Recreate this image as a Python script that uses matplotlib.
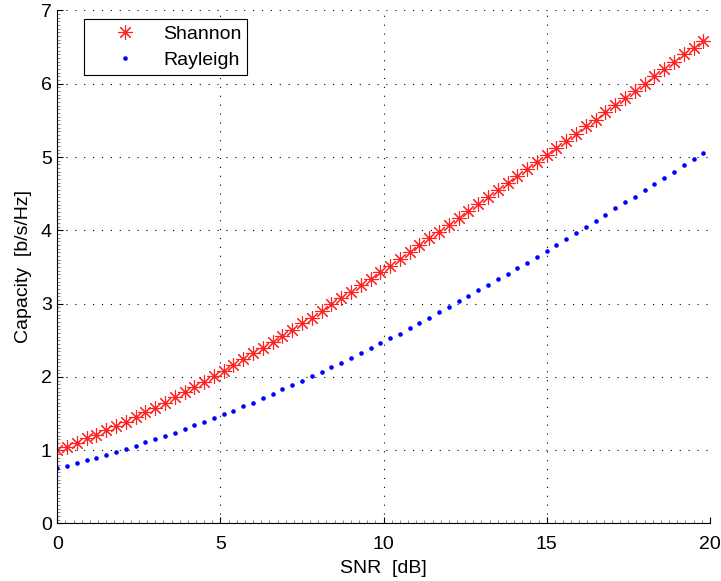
import matplotlib
matplotlib.use("Agg")
import matplotlib.pyplot as plt
from matplotlib.ticker import MultipleLocator

plt.rcParams['font.family'] = ['Liberation Sans', 'DejaVu Sans']

snr_db = [round(0.3 * i, 1) for i in range(67)]

shannon = [1.00, 1.05, 1.10, 1.16, 1.21, 1.27, 1.33, 1.39, 1.45, 1.52,
           1.58, 1.65, 1.72, 1.79, 1.86, 1.93, 2.01, 2.08, 2.16, 2.24,
           2.32, 2.40, 2.48, 2.56, 2.64, 2.73, 2.81, 2.90, 2.99, 3.07,
           3.16, 3.25, 3.34, 3.43, 3.52, 3.61, 3.70, 3.80, 3.89, 3.98,
           4.07, 4.17, 4.26, 4.36, 4.45, 4.55, 4.64, 4.74, 4.84, 4.93,
           5.03, 5.12, 5.22, 5.32, 5.42, 5.51, 5.61, 5.71, 5.81, 5.90,
           6.00, 6.10, 6.20, 6.30, 6.40, 6.49, 6.59]

rayleigh = [0.76, 0.79, 0.83, 0.86, 0.90, 0.94, 0.98, 1.02, 1.06, 1.11,
            1.15, 1.19, 1.24, 1.29, 1.34, 1.39, 1.44, 1.49, 1.54, 1.60,
            1.65, 1.71, 1.77, 1.83, 1.89, 1.94, 2.01, 2.07, 2.13, 2.19,
            2.26, 2.33, 2.39, 2.46, 2.53, 2.59, 2.67, 2.74, 2.81, 2.89,
            2.96, 3.03, 3.10, 3.18, 3.25, 3.33, 3.41, 3.49, 3.56, 3.64,
            3.72, 3.80, 3.88, 3.97, 4.05, 4.13, 4.21, 4.30, 4.38, 4.46,
            4.55, 4.63, 4.71, 4.80, 4.89, 4.98, 5.06]

x_ticks = [0, 5, 10, 15, 20]
y_ticks = [0, 1, 2, 3, 4, 5, 6, 7]

fig = plt.figure(figsize=(7.21, 5.81), dpi=100)
ax = fig.add_axes([0.0795, 0.099, 0.905, 0.883])

ax.plot(snr_db, shannon, linestyle='none', marker=(8, 2, 0), markersize=10.5,
        color='#ff2020', markeredgewidth=0.8, label='Shannon')
ax.plot(snr_db, rayleigh, linestyle='none', marker='o', markersize=3.3,
        color='#0000ff', markeredgewidth=0, label='Rayleigh')

ax.set_xlim(0, 20)
ax.set_ylim(0, 7)
ax.set_xticks(x_ticks)
ax.set_yticks(y_ticks)
ax.xaxis.set_minor_locator(MultipleLocator(0.25))
ax.yaxis.set_minor_locator(MultipleLocator(0.05))
ax.tick_params(which='major', direction='in', length=4, width=0.8, labelsize=14)
ax.tick_params(which='minor', direction='in', length=2, width=0.5, color='#555555')
ax.tick_params(axis='x', which='major', pad=9)
ax.tick_params(axis='y', which='major', pad=4)

ax.grid(True, which='major', linestyle=(0, (1, 7)), color='black', linewidth=0.8)
ax.spines['top'].set_visible(False)
ax.spines['right'].set_visible(False)

ax.set_xlabel('SNR  [dB]', fontsize=14, labelpad=5)
ax.set_ylabel('Capacity  [b/s/Hz]', fontsize=14, labelpad=6)

leg = ax.legend(loc='upper left', bbox_to_anchor=(0.041, 0.983), borderaxespad=0,
                fancybox=False, edgecolor='black', framealpha=1, fontsize=14,
                handlelength=3.6, handletextpad=0.15, borderpad=0.31, labelspacing=0.42)
leg.get_frame().set_linewidth(0.8)

fig.savefig('out.png', dpi=100)
